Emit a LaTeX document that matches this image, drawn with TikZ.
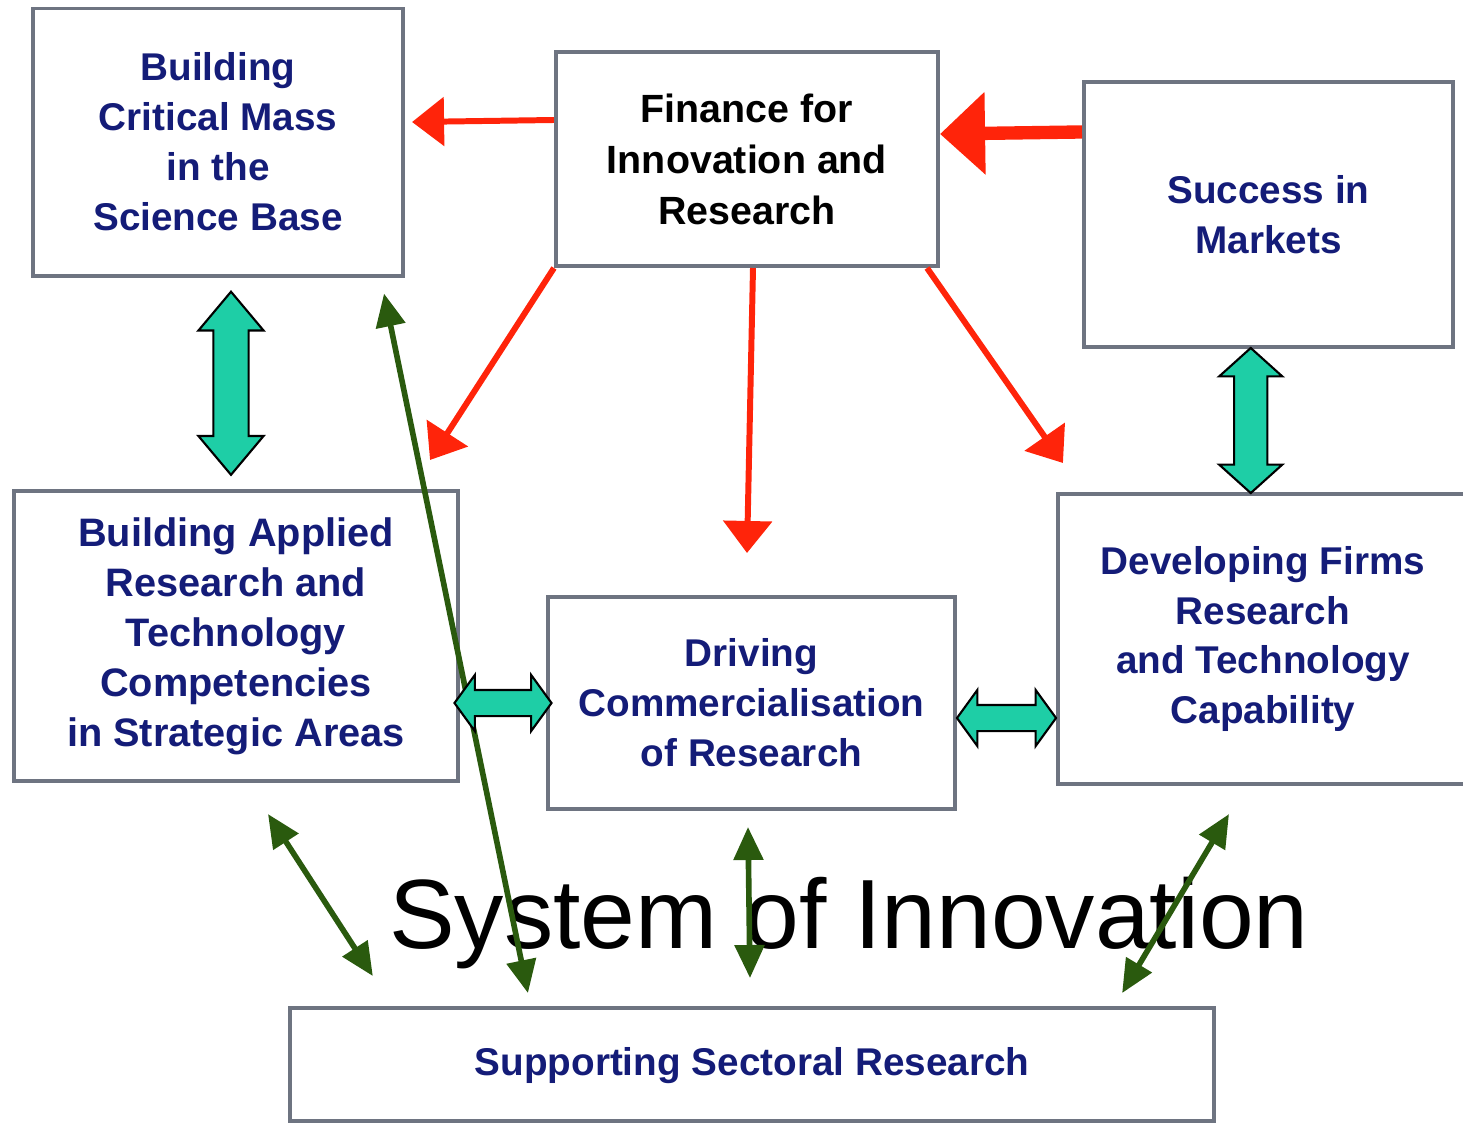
\documentclass[tikz,border=0pt]{standalone}
\usepackage{fontspec}
\setmainfont{Liberation Sans}
\usetikzlibrary{arrows.meta}
\usetikzlibrary{shapes.arrows,calc}
\definecolor{frame}{RGB}{110,116,129}
\definecolor{navy}{RGB}{20,28,120}
\definecolor{hot}{RGB}{255,36,10}
\definecolor{sea}{RGB}{30,206,166}
\definecolor{moss}{RGB}{42,90,14}

\begin{document}
\begin{tikzpicture}[
  x=0.01cm, y=-0.01cm,
  box/.style = {draw=frame, line width=1.1pt, align=center, inner sep=0pt,
    text=navy, font=\bfseries\fontsize{11}{14.2}\selectfont},
  feed/.style = {hot, line width=1.7pt, -{Triangle[width=0.48cm, length=0.32cm]}},
  bigfeed/.style = {hot, line width=3.8pt, -{Triangle[width=0.8cm, length=0.45cm]}},
  link/.style = {moss, line width=1.6pt,
    {Triangle[width=0.29cm, length=0.33cm]}-{Triangle[width=0.29cm, length=0.33cm]}},
  twoway/.style = {double arrow, draw=black, line width=0.6pt, fill=sea,
    inner xsep=0pt, minimum width=1pt},
]

  \useasboundingbox (0,0) rectangle (1463,1123);

  % boxes
  \node[box, minimum width=3.70cm, minimum height=2.67cm] (crit) at (218,142)
    {Building\\Critical Mass\\in the\\Science Base};
  \node[box, text=black, font=\bfseries\fontsize{11.2}{14.5}\selectfont,
    minimum width=3.82cm, minimum height=2.14cm] (finance) at (747,159)
    {Finance for\\Innovation and\\Research};
  \node[box, minimum width=3.69cm, minimum height=2.65cm] (success) at (1268.5,214.5)
    {Success in\\Markets};
  \node[box, font=\bfseries\fontsize{11.3}{14.2}\selectfont,
    minimum width=4.44cm, minimum height=2.90cm] (applied) at (236,636)
    {Building Applied\\Research and\\Technology\\Competencies\\in Strategic Areas};
  \node[box, minimum width=4.07cm, minimum height=2.12cm] (driving) at (751.5,703)
    {Driving\\Commercialisation\\of Research};
  \node[box, minimum width=4.10cm, minimum height=2.90cm] (firms) at (1263,639)
    {Developing Firms\\Research\\and Technology\\Capability};
  \node[box, minimum width=9.24cm, minimum height=1.13cm, text depth=0.06cm]
    (sectoral) at (752,1064.5) {Supporting Sectoral Research};

  \node[anchor=base, font=\fontsize{28}{32}\selectfont] (soi) at (849,948)
    {System of Innovation};

  % green links
  \draw[link] ([xshift=0.32cm,yshift=-0.31cm]applied.south)
    -- ([xshift=0.85cm,yshift=0.30cm]sectoral.north west);
  \draw[link] ([xshift=-0.21cm,yshift=-0.16cm]crit.south east)
    -- ([xshift=2.40cm,yshift=0.13cm]sectoral.north west);
  \draw[link] ([xshift=-0.035cm,yshift=-0.16cm]driving.south)
    -- ([xshift=-0.02cm,yshift=0.28cm]sectoral.north);
  \draw[link] ([xshift=-0.34cm,yshift=-0.28cm]firms.south)
    -- ([xshift=-0.94cm,yshift=0.13cm]sectoral.north east);

  % red feeds
  \draw[feed] ([yshift=0.39cm]finance.west) -- ([xshift=0.07cm,yshift=0.20cm]crit.east);
  \draw[bigfeed] ([yshift=0.825cm]success.west) -- ([yshift=0.25cm]finance.east);
  \draw[feed] (finance.south west) -- ([xshift=-0.30cm,yshift=0.29cm]applied.north east);
  \draw[feed] ([xshift=0.06cm]finance.south) -- ([xshift=-0.045cm,yshift=0.42cm]driving.north);
  \draw[feed] ([xshift=-0.13cm]finance.south east) -- ([xshift=0.07cm,yshift=0.29cm]firms.north west);

  % teal two-way arrows
  \node[twoway, rotate=90, minimum height=1.83cm, inner ysep=0.165cm,
    double arrow head extend=0.15cm, double arrow tip angle=80] (critapplied)
    at ([xshift=0.04cm]$(crit.south)!0.5!(applied.north)$) {};
  \node[twoway, rotate=90, minimum height=1.45cm, inner ysep=0.155cm,
    double arrow head extend=0.15cm, double arrow tip angle=96] (successfirms)
    at ([xshift=-0.15cm]$(success.south)!0.5!(firms.north)$) {};
  \node[twoway, minimum height=0.97cm, inner ysep=0.12cm,
    double arrow head extend=0.15cm, double arrow tip angle=108] (applieddriving)
    at ($(applied.east |- driving.west)!0.5!(driving.west)$) {};
  \node[twoway, minimum height=0.99cm, inner ysep=0.12cm,
    double arrow head extend=0.15cm, double arrow tip angle=108] (drivingfirms)
    at ([yshift=-0.15cm]$(driving.east)!0.5!(driving.east -| firms.west)$) {};

\end{tikzpicture}
\end{document}
